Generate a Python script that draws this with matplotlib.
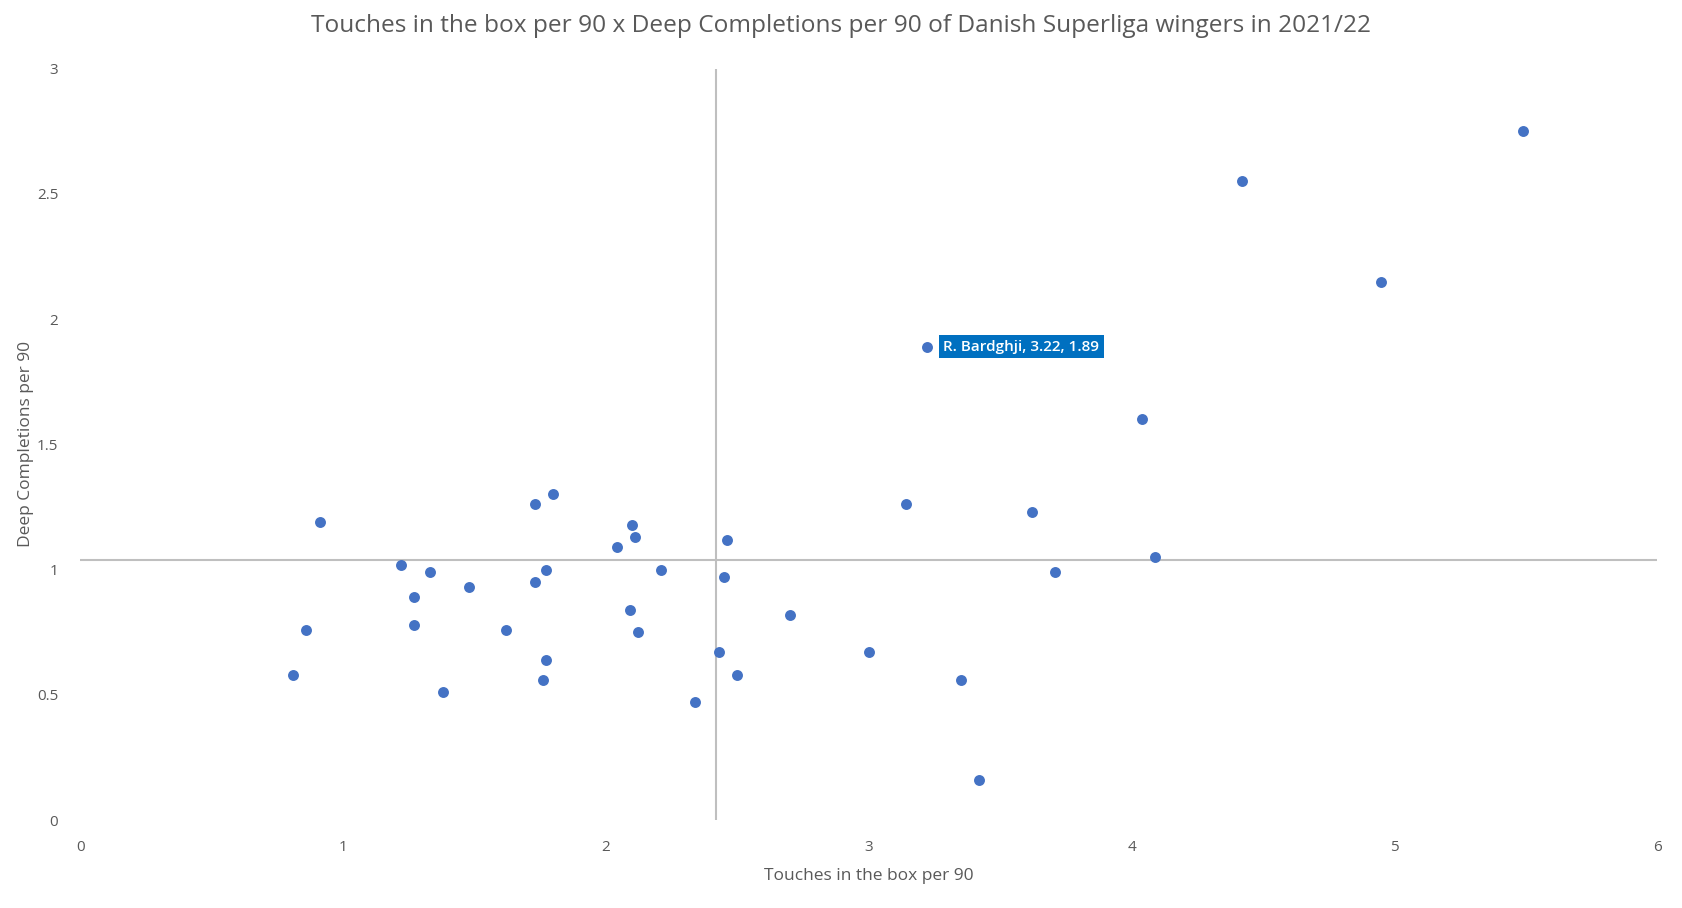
import matplotlib.pyplot as plt

# Touches in the box per 90 (x) and Deep Completions per 90 (y)
touches = [5.49, 4.42, 4.95, 3.22, 4.04, 3.14, 3.62, 4.09, 3.71, 0.91,
           1.80, 1.73, 2.10, 2.11, 2.46, 2.04, 1.22, 1.33, 1.77, 2.21,
           1.73, 1.48, 2.45, 1.27, 2.09, 2.70, 0.86, 1.27, 1.62, 2.12,
           2.43, 3.00, 1.77, 0.81, 2.50, 1.76, 3.35, 1.38, 2.34, 3.42]
deep_comp = [2.75, 2.55, 2.15, 1.89, 1.60, 1.26, 1.23, 1.05, 0.99, 1.19,
             1.30, 1.26, 1.18, 1.13, 1.12, 1.09, 1.02, 0.99, 1.00, 1.00,
             0.95, 0.93, 0.97, 0.89, 0.84, 0.82, 0.76, 0.78, 0.76, 0.75,
             0.67, 0.67, 0.64, 0.58, 0.58, 0.56, 0.56, 0.51, 0.47, 0.16]

highlight_name = "R. Bardghji"
highlight_idx = 3

# quadrant lines (league averages)
avg_x = 2.42
avg_y = 1.04

font = "Open Sans"
grey = "#595959"

fig = plt.figure(figsize=(16.82, 9.08), dpi=100)
ax = fig.add_axes([0.0478, 0.0968, 0.9375, 0.8276])

ax.axvline(avg_x, color="#BFBFBF", lw=1.5, zorder=1)
ax.axhline(avg_y, color="#BFBFBF", lw=1.5, zorder=1)
ax.scatter(touches, deep_comp, s=62, color="#4472C4", zorder=3, linewidths=0)

hx, hy = touches[highlight_idx], deep_comp[highlight_idx]
ax.annotate(f"{highlight_name}, {hx:.2f}, {hy:.2f}", (hx, hy),
            xytext=(12, 0), textcoords="offset points", va="center", ha="left",
            color="white", fontsize=11, fontweight="semibold", family=font, zorder=4,
            bbox=dict(boxstyle="square,pad=0.3", facecolor="#0070C0", edgecolor="none"))

ax.set_xlim(0, 6)
ax.set_ylim(0, 3)
ax.set_xticks(range(0, 7))
ax.set_yticks([0, 0.5, 1, 1.5, 2, 2.5, 3])
ax.set_yticklabels(["0", "0.5", "1", "1.5", "2", "2.5", "3"])
for s in ax.spines.values():
    s.set_visible(False)
ax.tick_params(length=0, colors=grey, labelsize=11, pad=14)
ax.tick_params(axis="y", pad=16)
for lbl in ax.get_xticklabels() + ax.get_yticklabels():
    lbl.set_family(font)

ax.set_xlabel("Touches in the box per 90", fontsize=12.5, color=grey, family=font, labelpad=10)
ax.set_ylabel("Deep Completions per 90", fontsize=12.5, color=grey, family=font, labelpad=2)
fig.suptitle("Touches in the box per 90 x Deep Completions per 90 of Danish Superliga wingers in 2021/22",
             fontsize=17.6, color=grey, family=font, y=0.985)

fig.savefig("out.png", dpi=100)
